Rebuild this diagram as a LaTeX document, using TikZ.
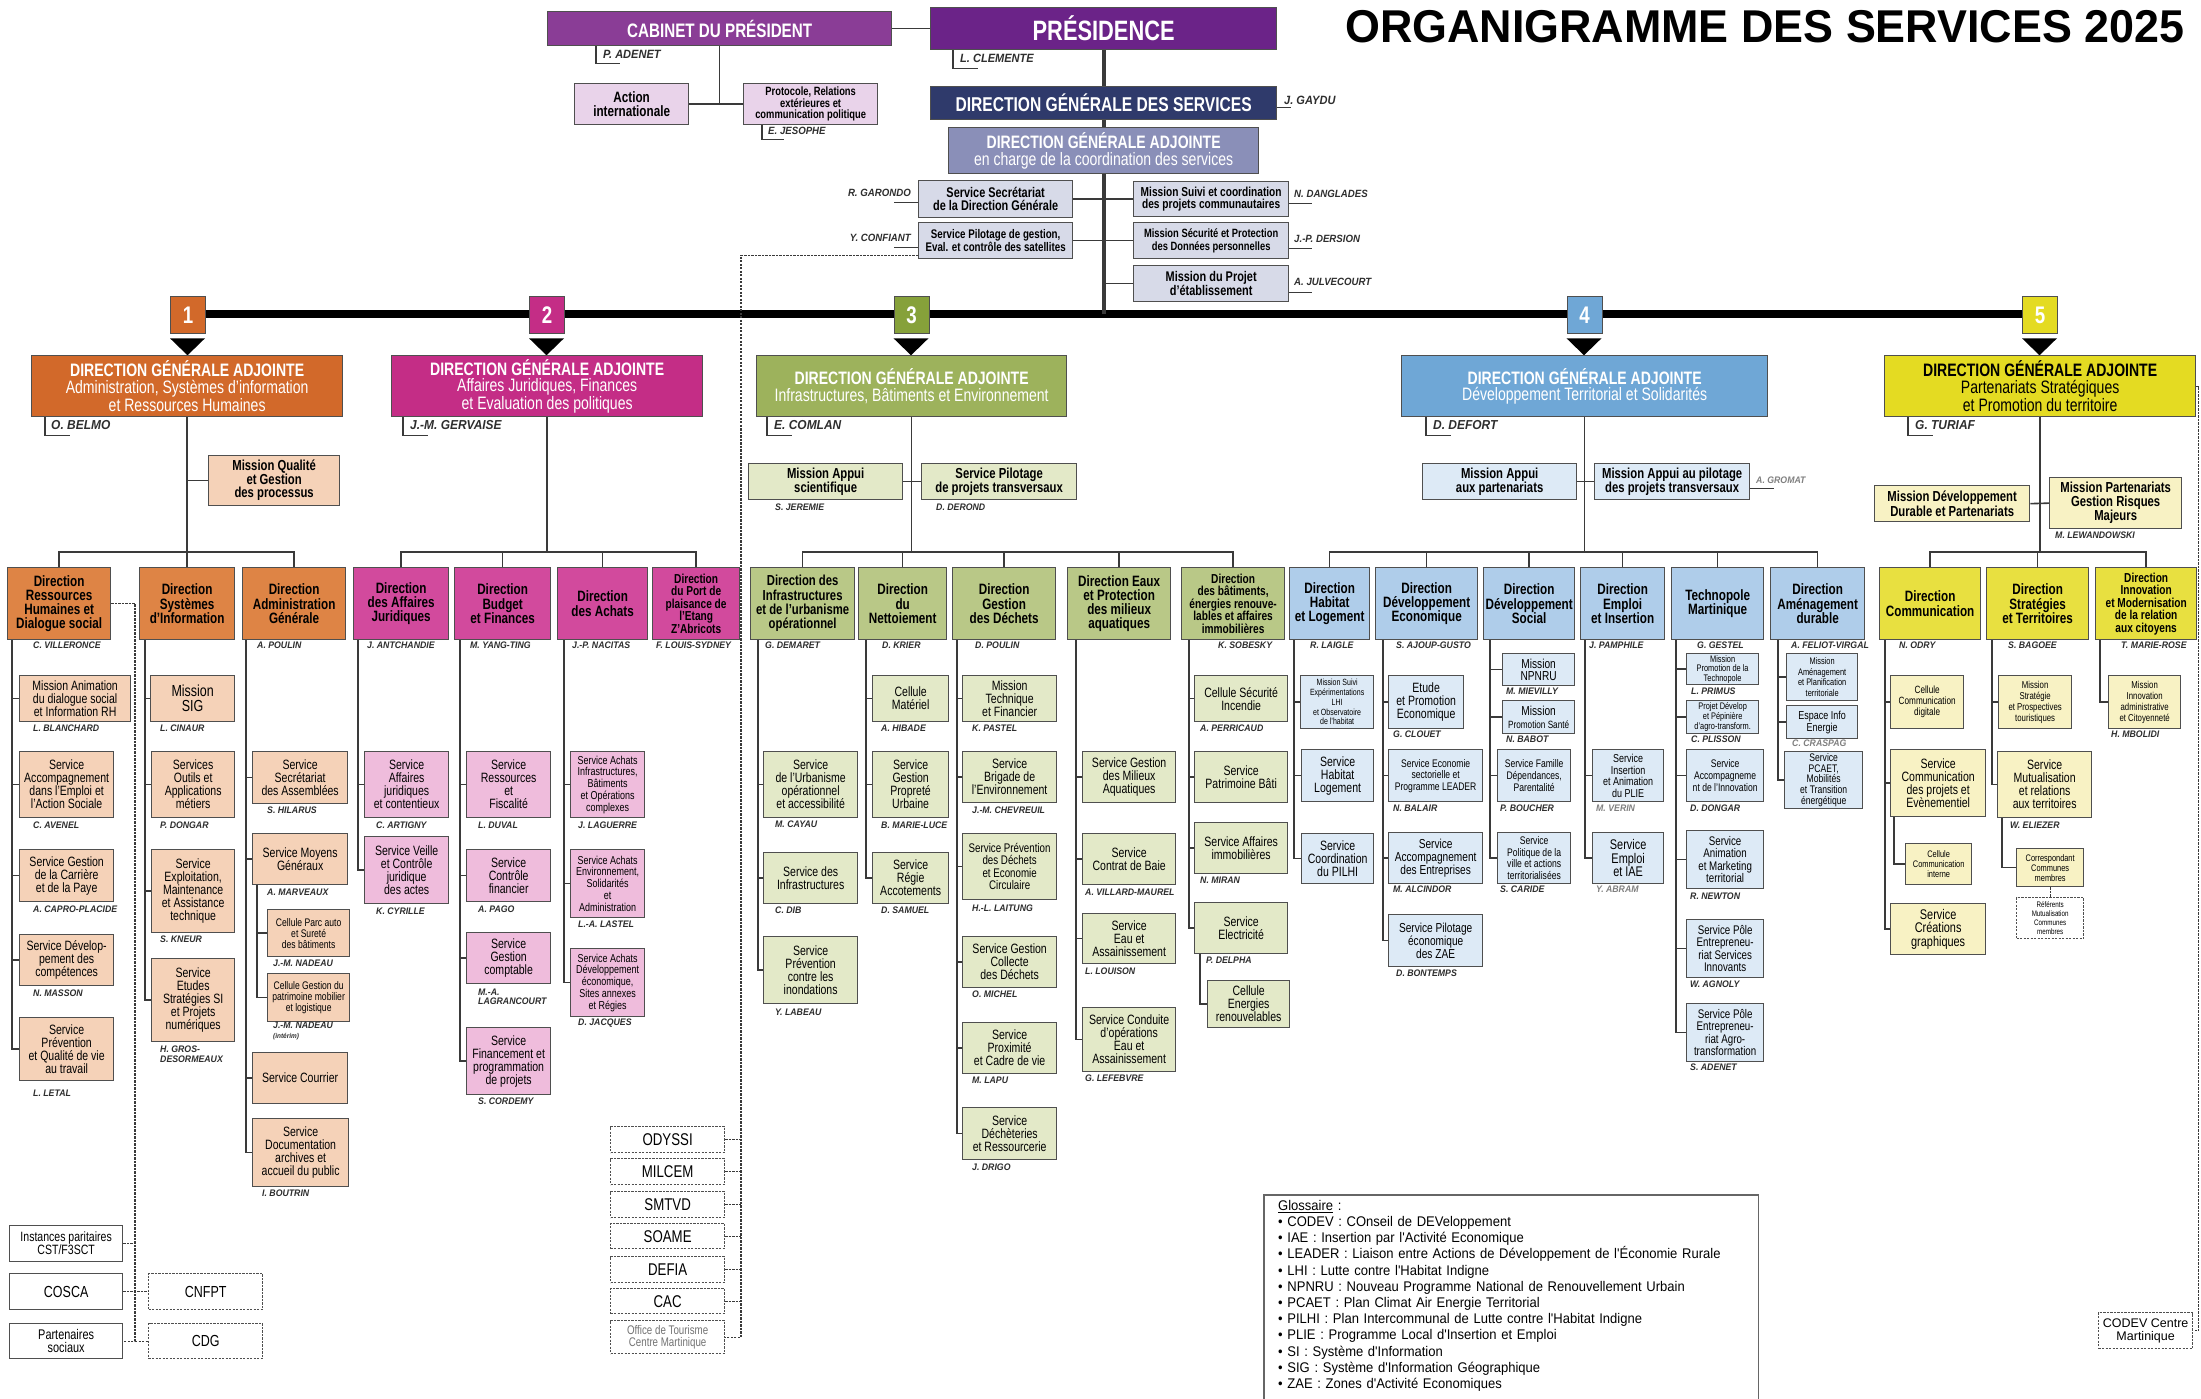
\documentclass[tikz,border=0pt]{standalone}
\usepackage{fontspec}
\setmainfont{Liberation Sans}[FakeStretch=0.78]
\newfontfamily\namefont{Liberation Sans}[FakeStretch=0.92]
\newfontfamily\plainfont{Liberation Sans}
\newfontfamily\glofont{Liberation Sans}[FakeStretch=0.93]
\newfontfamily\titlefont{Liberation Sans}[FakeStretch=0.975]
\definecolor{cabC}{HTML}{8A3D96}
\definecolor{presC}{HTML}{6B2388}
\definecolor{lilac}{HTML}{E9D3EA}
\definecolor{dgsC}{HTML}{2F3A6B}
\definecolor{dgacC}{HTML}{8A8FB8}
\definecolor{greyL}{HTML}{D7DAE8}
\definecolor{oA}{HTML}{D2692A}\definecolor{oB}{HTML}{DE8445}\definecolor{oC}{HTML}{F5D2B8}
\definecolor{mA}{HTML}{C42D86}\definecolor{mB}{HTML}{D24A9D}\definecolor{mC}{HTML}{EFBCDC}
\definecolor{gA}{HTML}{9DB25C}\definecolor{gN}{HTML}{86A13A}\definecolor{gB}{HTML}{B9C887}\definecolor{gC}{HTML}{E3E9C8}
\definecolor{bA}{HTML}{6FA7D6}\definecolor{bB}{HTML}{AFCDEA}\definecolor{bC}{HTML}{DDEAF6}
\definecolor{yA}{HTML}{E4DB22}\definecolor{yB}{HTML}{E8E040}\definecolor{yC}{HTML}{F8F2C4}
\definecolor{lnC}{HTML}{3A3A3A}
\definecolor{bdC}{HTML}{4F4F4F}
\definecolor{nmC}{HTML}{2E2E2E}
\tikzset{
 bxb/.style={draw=bdC, line width=1.3pt, inner sep=1pt, align=center, text=black},
 fs/.style 2 args={font=\fontsize{#1}{#2}\selectfont},
 fsb/.style 2 args={font=\bfseries\fontsize{#1}{#2}\selectfont},
 topb/.style={bxb, text=white},
 dgaS/.style={bxb, text=white, font=\fontsize{18}{16.5}\selectfont},
 dirS/.style={bxb, font=\bfseries\fontsize{15}{14.3}\selectfont},
 svcS/.style={bxb, font=\fontsize{13.5}{13}\selectfont},
 misS/.style={bxb, font=\bfseries\fontsize{14.5}{13.5}\selectfont},
 numb/.style={bxb, text=white, font=\bfseries\fontsize{24}{24}\selectfont},
 extS/.style={bxb, fill=white, font=\fontsize{16}{16}\selectfont},
 satS/.style={bxb, fill=white, dash pattern=on 2.2pt off 1.3pt, font=\fontsize{17}{17}\selectfont},
 s1/.style={svcS, fill=oC}, s2/.style={svcS, fill=mC}, s3/.style={svcS, fill=gC},
 s4/.style={svcS, fill=bC}, s5/.style={svcS, fill=yC},
 conn/.style={draw=lnC, line width=1.6pt},
 spn/.style={draw=lnC, line width=4pt},
 dsh/.style={draw=lnC, line width=1.3pt, dash pattern=on 2.2pt off 1.3pt},
 brk/.style={draw=lnC, line width=1.1pt},
 nmS/.style={inner sep=0pt, anchor=west, align=left, text=nmC, font=\namefont\bfseries\itshape\fontsize{9.5}{9.5}\selectfont},
 nmG/.style={nmS, text=gray},
 nmL/.style={nmS, font=\namefont\bfseries\itshape\fontsize{13}{13}\selectfont},
 nmM/.style={nmS, font=\namefont\bfseries\itshape\fontsize{12}{12}\selectfont},
 nmT/.style={nmS, font=\namefont\bfseries\itshape\fontsize{10.5}{10.5}\selectfont},
}
\newcommand{\bx}[7]{\node[#2,anchor=north west,minimum width={#5-#3},minimum height={#6-#4}] (#1) at (#3,#4) {#7};}
\newcommand{\nm}[5][nmS]{\node[#1] (#2) at (#3,#4) {#5};}
\newcommand{\ch}[3]{\draw[conn] ([xshift=#3pt]#1.south west) |- (#2.west);}
\newcommand{\brn}[2]{\draw[conn] (#1.south |- br) -| (#2.north);}
\begin{document}
\begin{tikzpicture}[x=1pt,y=-1pt]
\useasboundingbox (0,0) rectangle (2201,1399);
\clip (0,0) rectangle (2201,1399);
\fill[white] (0,0) rectangle (2201,1399);
\coordinate (br) at (0,552);
% ---------- title
\node[anchor=north west, inner sep=0pt, font=\titlefont\bfseries\fontsize{46}{46}\selectfont] (title) at (1345,10) {ORGANIGRAMME DES SERVICES 2025};
% ---------- top
\bx{cab}{topb, fill=cabC, fsb={19.5}{20}}{547}{11}{891}{45}{CABINET DU PRÉSIDENT}
\bx{pres}{topb, fill=presC, fsb={28}{28}}{930}{7}{1276}{49}{PRÉSIDENCE}
\bx{ai}{bxb, fill=lilac, fsb={15}{14}}{574}{83}{688}{124}{Action\\internationale}
\bx{prot}{bxb, fill=lilac, fsb={12}{11.5}}{743}{83}{877}{124}{Protocole, Relations\\extérieures et\\communication politique}
\bx{dgs}{topb, fill=dgsC, fsb={20}{20}}{930}{86}{1276}{119}{DIRECTION GÉNÉRALE DES SERVICES}
\bx{dgac}{topb, fill=dgacC, fs={18}{17}}{948}{127}{1258}{173}{\textbf{DIRECTION GÉNÉRALE ADJOINTE}\\en charge de la coordination des services}
\bx{ssdg}{bxb, fill=greyL, fsb={14}{13}}{918}{180}{1072}{217}{Service Secrétariat\\de la Direction Générale}
\bx{spg}{bxb, fill=greyL, fsb={12.5}{12.5}}{918}{222}{1072}{258}{Service Pilotage de gestion,\\Eval. et contrôle des satellites}
\bx{msc}{bxb, fill=greyL, fsb={13}{12.5}}{1133}{181}{1288}{216}{Mission Suivi et coordination\\des projets communautaires}
\bx{msp}{bxb, fill=greyL, fsb={12}{12.5}}{1133}{222}{1288}{258}{Mission Sécurité et  Protection\\des Données personnelles}
\bx{mpe}{bxb, fill=greyL, fsb={14}{13}}{1133}{265}{1288}{301}{Mission du Projet\\d'établissement}
\draw[conn] (cab.east) -- (pres.west);
\draw[conn] (cab.south) -- (cab.south |- ai.east);
\draw[conn] (ai.east) -- (prot.west);
\draw[spn] (pres.south) -- (dgs.north);
\draw[spn] (dgs.south) -- (dgac.north);
\draw[conn] (ssdg.east) -- (ssdg.east -| dgac.south);
\draw[conn] (spg.east) -- (spg.east -| dgac.south);
\draw[conn] (msc.west) -- (msc.west -| dgac.south);
\draw[conn] (msp.west) -- (msp.west -| dgac.south);
\draw[conn] (mpe.west) -- (mpe.west -| dgac.south);
% top names
\draw[brk] ([xshift=49pt]cab.south west) |- ++(24,17);
\nm[nmM]{t1}{603}{54}{P. ADENET}
\draw[brk] ([xshift=23pt]pres.south west) |- ++(25,18);
\nm[nmM]{t2}{960}{58}{L. CLEMENTE}
\draw[brk] ([xshift=19pt]prot.south west) |- ++(22,14);
\nm[nmT]{t3}{768}{131}{E. JESOPHE}
\draw[brk] (dgs.south east) ++(0,-13) -- ++(14,0);
\nm[nmM]{t4}{1284}{100}{J. GAYDU}
\draw[brk] (ssdg.west) ++(0,3.5) -- ++(-24,0);
\node[nmT, anchor=east] (t5) at (911,193) {R. GARONDO};
\draw[brk] (spg.west) ++(0,7) -- ++(-24,0);
\node[nmT, anchor=east] (t6) at (911,238) {Y. CONFIANT};
\draw[brk] (msc.east) ++(0,4.5) -- ++(23,0);
\nm[nmT]{t7}{1294}{194}{N. DANGLADES}
\draw[brk] (msp.east) ++(0,8) -- ++(23,0);
\nm[nmT]{t8}{1294}{239}{J.-P. DERSION}
\draw[brk] (mpe.east) ++(0,9) -- ++(23,0);
\nm[nmT]{t9}{1294}{282}{A. JULVECOURT}
% ---------- bar and numbers
\coordinate (barL) at (205,314);
\coordinate (barR) at (2022,314);
\draw[line width=8pt, black] (barL) -- (barR);
\draw[spn] (dgac.south) -- (dgac.south |- barL);
\bx{k1}{numb, fill=oA}{170}{296}{205}{333}{1}
\bx{k2}{numb, fill=mA}{529}{296}{564}{333}{2}
\bx{k3}{numb, fill=gN}{893.5}{296}{928.5}{333}{3}
\bx{k4}{numb, fill=bA}{1566.5}{296}{1601.5}{333}{4}
\bx{k5}{numb, fill=yA}{2022}{296}{2057}{333}{5}
\foreach \k in {k1,k2,k3,k4,k5}{\fill[black] (\k.south west) ++(0,4) -- ++(35,0) -- ++(-17.5,17) -- cycle;}
% ---------- DGA boxes
\bx{dga1}{dgaS, fill=oA}{31}{355}{342}{416}{\textbf{DIRECTION GÉNÉRALE ADJOINTE}\\Administration, Systèmes d'information\\et Ressources Humaines}
\bx{dga2}{dgaS, fill=mA}{391}{355}{702}{416}{\textbf{DIRECTION GÉNÉRALE ADJOINTE}\\Affaires Juridiques, Finances\\et Evaluation des politiques}
\bx{dga3}{dgaS, fill=gA}{756}{355}{1066}{416}{\textbf{DIRECTION GÉNÉRALE ADJOINTE}\\Infrastructures, Bâtiments et Environnement}
\bx{dga4}{dgaS, fill=bA}{1401}{355}{1767}{416}{\textbf{DIRECTION GÉNÉRALE ADJOINTE}\\Développement Territorial et Solidarités}
\bx{dga5}{dgaS, fill=yA, text=black}{1884}{355}{2195}{416}{\textbf{DIRECTION GÉNÉRALE ADJOINTE}\\Partenariats Stratégiques\\et Promotion du territoire}
\draw[brk] ([xshift=14pt]dga1.south west) |- ++(25,18);
\nm[nmL]{g1}{51}{425}{O. BELMO}
\draw[brk] ([xshift=12pt]dga2.south west) |- ++(25,18);
\nm[nmL]{g2}{410}{425}{J.-M. GERVAISE}
\draw[brk] ([xshift=11pt]dga3.south west) |- ++(25,18);
\nm[nmL]{g3}{774}{425}{E. COMLAN}
\draw[brk] ([xshift=25pt]dga4.south west) |- ++(25,18);
\nm[nmL]{g4}{1433}{425}{D. DEFORT}
\draw[brk] ([xshift=24pt]dga5.south west) |- ++(25,18);
\nm[nmL]{g5}{1915}{425}{G. TURIAF}
% ========== DGA 1
\bx{mq}{misS, fill=oC}{208}{455}{339}{505}{Mission Qualité\\et Gestion\\des processus}
\draw[conn] (dga1.south) -- (dga1.south |- br);
\draw[conn] (dga1.south |- mq.west) -- (mq.west);
\bx{drh}{dirS, fill=oB}{7}{567}{110}{639}{Direction\\Ressources\\Humaines et\\Dialogue social}
\bx{dsi}{dirS, fill=oB}{139}{567}{234}{639}{Direction\\Systèmes\\d'Information}
\bx{dag}{dirS, fill=oB}{242}{567}{345}{639}{Direction\\Administration\\Générale}
\brn{dga1}{drh}\brn{dga1}{dsi}\brn{dga1}{dag}
\bx{c11}{s1}{19}{675}{130}{721}{Mission Animation\\du dialogue social\\et Information RH}
\bx{c12}{s1}{19}{751}{113}{817}{Service\\Accompagnement\\dans l'Emploi et\\l'Action Sociale}
\bx{c13}{s1}{19}{849}{113}{901}{Service Gestion\\de la Carrière\\et de la Paye}
\bx{c14}{s1}{19}{934}{113}{985}{Service Dévelop-\\pement des\\compétences}
\bx{c15}{s1}{19}{1017}{113}{1080}{Service\\Prévention\\et Qualité de vie\\au travail}
\foreach \c in {c11,c12,c13,c14,c15}{\ch{drh}{\c}{5}}
\bx{c21}{s1, fs={16}{15}}{150}{675}{234}{721}{Mission\\SIG}
\bx{c22}{s1}{151}{751}{234}{817}{Services\\Outils et\\Applications\\métiers}
\bx{c23}{s1}{151}{849}{234}{932}{Service\\Exploitation,\\Maintenance\\et Assistance\\technique}
\bx{c24}{s1}{151}{958}{234}{1041}{Service\\Etudes\\Stratégies SI\\et Projets\\numériques}
\foreach \c in {c21,c22,c23,c24}{\ch{dsi}{\c}{6}}
\bx{c31}{s1}{252}{751}{347}{803}{Service\\Secrétariat\\des Assemblées}
\bx{c32}{s1}{252}{833}{347}{884}{Service Moyens\\Généraux}
\bx{c33}{s1, fs={11}{11}}{267}{909}{349}{956}{Cellule Parc auto\\et Sureté\\des bâtiments}
\bx{c34}{s1, fs={11}{11}}{267}{973}{349}{1021}{Cellule Gestion du\\patrimoine mobilier\\et logistique}
\bx{c35}{s1}{252}{1052}{347}{1103}{Service Courrier}
\bx{c36}{s1}{252}{1118}{348}{1186}{Service\\Documentation\\archives et\\accueil du public}
\foreach \c in {c31,c32,c35,c36}{\ch{dag}{\c}{4}}
\ch{c32}{c33}{5}\ch{c32}{c34}{5}
\nm{a1}{33}{645}{C. VILLERONCE}
\nm{a2}{257}{645}{A. POULIN}
\nm{a3}{33}{728}{L. BLANCHARD}
\nm{a4}{33}{825}{C. AVENEL}
\nm{a5}{33}{909}{A. CAPRO-PLACIDE}
\nm{a6}{33}{993}{N. MASSON}
\nm{a7}{33}{1093}{L. LETAL}
\nm{a8}{160}{728}{L. CINAUR}
\nm{a9}{160}{825}{P. DONGAR}
\nm{a10}{160}{939}{S. KNEUR}
\nm{a11}{160}{1054}{H. GROS-\\DESORMEAUX}
\nm{a12}{267}{810}{S. HILARUS}
\nm{a13}{267}{892}{A. MARVEAUX}
\nm{a14}{273}{963}{J.-M. NADEAU}
\nm{a15}{273}{1031}{J.-M. NADEAU\\{\fontsize{7}{7}\selectfont (intérim)}}
\nm{a16}{262}{1193}{I. BOUTRIN}
% external bodies DGA1
\coordinate (dd1) at (135,0);
\bx{ip}{extS, fs={13.5}{13}}{9}{1225}{122}{1261}{Instances paritaires\\CST/F3SCT}
\bx{cosca}{extS}{9}{1273}{122}{1309}{COSCA}
\bx{ps}{extS, fs={14}{13.5}}{9}{1323}{122}{1358}{Partenaires\\sociaux}
\bx{cnfpt}{satS, fs={16}{16}}{148}{1273}{262}{1309}{CNFPT}
\bx{cdg}{satS, fs={16}{16}}{148}{1323}{262}{1358}{CDG}
\draw[dsh] (drh.east) -| (ps.east -| dd1) -- (ps.east);
\draw[dsh] (ip.east) -- (ip.east -| dd1);
\draw[dsh] (cosca.east) -- (cnfpt.west);
\draw[dsh] (ps.east -| dd1) -- (cdg.west);
% ========== DGA 2
\draw[conn] (dga2.south) -- (dga2.south |- br);
\bx{d21}{dirS, fill=mB}{353}{567}{448}{639}{Direction\\des Affaires\\Juridiques}
\bx{d22}{dirS, fill=mB}{454}{567}{550}{639}{Direction\\Budget\\et Finances}
\bx{d23}{dirS, fill=mB}{557}{567}{647}{639}{Direction\\des Achats}
\bx{d24}{dirS, fill=mB, fsb={13}{12.5}}{652}{567}{739}{639}{Direction\\du Port de\\plaisance de\\l'Etang\\Z'Abricots}
\brn{dga2}{d21}\brn{dga2}{d22}\brn{dga2}{d23}\brn{dga2}{d24}
\bx{e11}{s2}{364}{751}{448}{817}{Service\\Affaires\\juridiques\\et contentieux}
\bx{e12}{s2}{364}{836}{448}{903}{Service Veille\\et Contrôle\\juridique\\des actes}
\foreach \c in {e11,e12}{\ch{d21}{\c}{5}}
\bx{e21}{s2}{466}{751}{550}{817}{Service\\Ressources\\et\\Fiscalité}
\bx{e22}{s2}{466}{849}{550}{901}{Service\\Contrôle\\financier}
\bx{e23}{s2}{466}{932}{550}{983}{Service\\Gestion\\comptable}
\bx{e24}{s2}{466}{1027}{550}{1094}{Service\\Financement et\\programmation\\de projets}
\foreach \c in {e21,e22,e23,e24}{\ch{d22}{\c}{6}}
\bx{e31}{s2, fs={11.5}{11.8}}{570}{751}{644}{817}{Service Achats\\Infrastructures,\\Bâtiments\\et Opérations\\complexes}
\bx{e32}{s2, fs={11.5}{11.8}}{570}{849}{644}{917}{Service Achats\\Environnement,\\Solidarités\\et\\Administration}
\bx{e33}{s2, fs={11.5}{11.8}}{570}{948}{644}{1016}{Service Achats\\Développement\\économique,\\Sites annexes\\et Régies}
\foreach \c in {e31,e32,e33}{\ch{d23}{\c}{7}}
\nm{b1}{367}{645}{J. ANTCHANDIE}
\nm{b2}{470}{645}{M. YANG-TING}
\nm{b3}{572}{645}{J.-P. NACITAS}
\nm{b4}{656}{645}{F. LOUIS-SYDNEY}
\nm{b5}{376}{825}{C. ARTIGNY}
\nm{b6}{376}{911}{K. CYRILLE}
\nm{b7}{478}{825}{L. DUVAL}
\nm{b8}{478}{909}{A. PAGO}
\nm{b9}{478}{997}{M.-A.\\LAGRANCOURT}
\nm{b10}{478}{1101}{S. CORDEMY}
\nm{b11}{578}{825}{J. LAGUERRE}
\nm{b12}{578}{924}{L.-A. LASTEL}
\nm{b13}{578}{1023}{D. JACQUES}
% satellites
\coordinate (dd2) at (741,0);
\bx{o1}{satS}{610}{1126}{724}{1152}{ODYSSI}
\bx{o2}{satS}{610}{1158}{724}{1184}{MILCEM}
\bx{o3}{satS}{610}{1191}{724}{1217}{SMTVD}
\bx{o4}{satS}{610}{1223}{724}{1248}{SOAME}
\bx{o5}{satS}{610}{1256}{724}{1282}{DEFIA}
\bx{o6}{satS}{610}{1288}{724}{1313}{CAC}
\bx{o7}{satS, text=black!55, fs={12.5}{12.5}}{610}{1320}{724}{1353}{Office de Tourisme\\Centre Martinique}
\draw[dsh] (spg.south west) ++(0,-4) -| (o7.east -| dd2) -- (o7.east);
\foreach \o in {o1,o2,o3,o4,o5,o6}{\draw[dsh] (\o.east) -- (\o.east -| dd2);}
% ========== DGA 3
\bx{map}{misS, fill=gC}{748}{463}{902}{499}{Mission Appui\\scientifique}
\bx{spl}{misS, fill=gC}{921}{463}{1076}{499}{Service Pilotage\\de projets transversaux}
\draw[conn] (dga3.south) -- (dga3.south |- br);
\draw[conn] (map.east) -- (spl.west);
\nm{h1}{775}{507}{S. JEREMIE}
\nm{h2}{936}{507}{D. DEROND}
\bx{d31}{dirS, fill=gB, fsb={14.5}{14.3}}{750}{567}{854}{639}{Direction des\\Infrastructures\\et de l'urbanisme\\opérationnel}
\bx{d32}{dirS, fill=gB}{858}{567}{946}{639}{Direction\\du\\Nettoiement}
\bx{d33}{dirS, fill=gB}{952}{567}{1055}{639}{Direction\\Gestion\\des Déchets}
\bx{d34}{dirS, fill=gB}{1067}{567}{1170}{639}{Direction Eaux\\et Protection\\des milieux\\aquatiques}
\bx{d35}{dirS, fill=gB, fsb={13}{12.5}}{1181}{567}{1284}{639}{Direction\\des bâtiments,\\énergies renouve-\\lables et affaires\\immobilières}
\brn{dga3}{d31}\brn{dga3}{d32}\brn{dga3}{d33}\brn{dga3}{d34}\brn{dga3}{d35}
\bx{f11}{s3}{763}{751}{857}{817}{Service\\de l'Urbanisme\\opérationnel\\et accessibilité}
\bx{f12}{s3}{763}{852}{857}{903}{Service des\\Infrastructures}
\bx{f13}{s3}{763}{936}{857}{1003}{Service\\Prévention\\contre les\\inondations}
\foreach \c in {f11,f12,f13}{\ch{d31}{\c}{8}}
\bx{f21}{s3}{872}{675}{948}{721}{Cellule\\Matériel}
\bx{f22}{s3}{872}{751}{948}{817}{Service\\Gestion\\Propreté\\Urbaine}
\bx{f23}{s3}{872}{852}{948}{903}{Service\\Régie\\Accotements}
\foreach \c in {f21,f22,f23}{\ch{d32}{\c}{8}}
\bx{f31}{s3}{962}{675}{1056}{721}{Mission\\Technique\\et Financier}
\bx{f32}{s3}{962}{751}{1056}{802}{Service\\Brigade de\\l'Environnement}
\bx{f33}{s3, fs={12.5}{12.5}}{962}{833}{1056}{899}{Service Prévention\\des Déchets\\et Economie\\Circulaire}
\bx{f34}{s3}{962}{936}{1056}{987}{Service Gestion\\Collecte\\des Déchets}
\bx{f35}{s3}{962}{1022}{1056}{1073}{Service\\Proximité\\et Cadre de vie}
\bx{f36}{s3}{962}{1107}{1056}{1159}{Service\\Déchèteries\\et Ressourcerie}
\foreach \c in {f31,f32,f33,f34,f35,f36}{\ch{d33}{\c}{5}}
\bx{f41}{s3}{1082}{751}{1175}{802}{Service Gestion\\des Milieux\\Aquatiques}
\bx{f42}{s3}{1082}{833}{1175}{884}{Service\\Contrat de Baie}
\bx{f43}{s3}{1082}{913}{1175}{963}{Service\\Eau et\\Assainissement}
\bx{f44}{s3}{1082}{1007}{1175}{1071}{Service Conduite\\d'opérations\\Eau et\\Assainissement}
\foreach \c in {f41,f42,f43,f44}{\ch{d34}{\c}{9}}
\bx{f51}{s3}{1194}{675}{1287}{721}{Cellule Sécurité\\Incendie}
\bx{f52}{s3}{1194}{751}{1287}{802}{Service\\Patrimoine Bâti}
\bx{f53}{s3}{1194}{822}{1287}{873}{Service Affaires\\immobilières}
\bx{f54}{s3}{1194}{902}{1287}{953}{Service\\Electricité}
\bx{f55}{s3}{1207}{980}{1289}{1027}{Cellule\\Energies\\renouvelables}
\foreach \c in {f51,f52,f53,f54}{\ch{d35}{\c}{8}}
\ch{f54}{f55}{6}
\nm{i1}{765}{645}{G. DEMARET}
\nm{i2}{882}{645}{D. KRIER}
\nm{i3}{975}{645}{D. POULIN}
\nm{i4}{1218}{645}{K. SOBESKY}
\nm{i5}{775}{824}{M. CAYAU}
\nm{i6}{775}{910}{C. DIB}
\nm{i7}{775}{1012}{Y. LABEAU}
\nm{i8}{881}{728}{A. HIBADE}
\nm{i9}{881}{825}{B. MARIE-LUCE}
\nm{i10}{881}{910}{D. SAMUEL}
\nm{i11}{972}{728}{K. PASTEL}
\nm{i12}{972}{810}{J.-M. CHEVREUIL}
\nm{i13}{972}{908}{H.-L. LAITUNG}
\nm{i14}{972}{994}{O. MICHEL}
\nm{i15}{972}{1080}{M. LAPU}
\nm{i16}{972}{1167}{J. DRIGO}
\nm{i17}{1085}{892}{A. VILLARD-MAUREL}
\nm{i18}{1085}{971}{L. LOUISON}
\nm{i19}{1085}{1078}{G. LEFEBVRE}
\nm{i20}{1200}{728}{A. PERRICAUD}
\nm{i21}{1200}{880}{N. MIRAN}
\nm{i22}{1206}{960}{P. DELPHA}
% ========== DGA 4
\bx{mapa}{misS, fill=bC}{1422}{463}{1576}{499}{Mission Appui\\aux partenariats}
\bx{mapp}{misS, fill=bC}{1594}{463}{1749}{499}{Mission Appui au pilotage\\des projets transversaux}
\draw[conn] (dga4.south) -- (dga4.south |- br);
\draw[conn] (mapa.east) -- (mapp.west);
\draw[brk] (mapp.east) ++(0,7) -- ++(24,0);
\nm[nmG]{j0}{1756}{480}{A. GROMAT}
\bx{d41}{dirS, fill=bB}{1289}{567}{1369}{639}{Direction\\Habitat\\et Logement}
\bx{d42}{dirS, fill=bB}{1375}{567}{1477}{639}{Direction\\Développement\\Economique}
\bx{d43}{dirS, fill=bB}{1483}{567}{1574}{639}{Direction\\Développement\\Social}
\bx{d44}{dirS, fill=bB}{1580}{567}{1664}{639}{Direction\\Emploi\\et Insertion}
\bx{d45}{dirS, fill=bB}{1671}{567}{1763}{639}{Technopole\\Martinique}
\bx{d46}{dirS, fill=bB}{1770}{567}{1864}{639}{Direction\\Aménagement\\durable}
\brn{dga4}{d41}\brn{dga4}{d42}\brn{dga4}{d43}\brn{dga4}{d44}\brn{dga4}{d45}\brn{dga4}{d46}
\bx{g11}{s4, fs={9}{9.8}}{1300}{675}{1373}{728}{Mission Suivi\\Expérimentations\\LHI\\et Observatoire\\de l'habitat}
\bx{g12}{s4}{1301}{749}{1373}{801}{Service\\Habitat\\Logement}
\bx{g13}{s4}{1301}{833}{1373}{883}{Service\\Coordination\\du PILHI}
\foreach \c in {g11,g12,g13}{\ch{d41}{\c}{5}}
\bx{g21}{s4}{1388}{675}{1463}{728}{Etude\\et Promotion\\Economique}
\bx{g22}{s4, fs={11}{11.5}}{1388}{749}{1482}{801}{Service Economie\\sectorielle et\\Programme LEADER}
\bx{g23}{s4, fs={13}{13}}{1388}{832}{1482}{883}{Service\\Accompagnement\\des Entreprises}
\bx{g24}{s4, fs={13}{13}}{1388}{914}{1482}{966}{Service  Pilotage\\économique\\des ZAE}
\foreach \c in {g21,g22,g23,g24}{\ch{d42}{\c}{8}}
\bx{g31}{s4, fs={13}{12.5}}{1502}{653}{1574}{685}{Mission\\NPNRU}
\bx{g32}{s4, fs={13}{12.5}}{1502}{700}{1574}{733}{Mission\\{\fontsize{10.5}{11}\selectfont Promotion Santé}}
\bx{g33}{s4, fs={11}{12}}{1497}{749}{1570}{801}{Service Famille\\Dépendances,\\Parentalité}
\bx{g34}{s4, fs={11}{11.5}}{1497}{832}{1570}{883}{Service\\Politique de la\\ville et actions\\territorialisées}
\foreach \c in {g31,g32,g33,g34}{\ch{d43}{\c}{7}}
\bx{g41}{s4, fs={11.5}{11.5}}{1592}{749}{1663}{801}{Service\\Insertion\\et Animation\\du PLIE}
\bx{g42}{s4, fs={14}{13.5}}{1592}{832}{1663}{883}{Service\\Emploi\\et IAE}
\foreach \c in {g41,g42}{\ch{d44}{\c}{5}}
\bx{g51}{s4, fs={9.5}{9.5}}{1686}{653}{1758}{684}{Mission\\Promotion de la\\Technopole}
\bx{g52}{s4, fs={9.5}{9.8}}{1686}{700}{1758}{733}{Projet Dévelop\\et Pépinière\\d'agro-transform.}
\bx{g53}{s4, fs={11}{12}}{1686}{749}{1763}{801}{Service\\Accompagneme\\nt de l'Innovation}
\bx{g54}{s4, fs={12.5}{12.5}}{1686}{830}{1763}{888}{Service\\Animation\\et Marketing\\territorial}
\bx{g55}{s4, fs={12.5}{12.5}}{1686}{919}{1763}{977}{Service Pôle\\Entrepreneu-\\riat Services\\Innovants}
\bx{g56}{s4, fs={12.5}{12.5}}{1686}{1003}{1763}{1061}{Service Pôle\\Entrepreneu-\\riat Agro-\\transformation}
\foreach \c in {g51,g52,g53,g54,g55,g56}{\ch{d45}{\c}{5}}
\bx{g61}{s4, fs={9.5}{10.5}}{1786}{653}{1857}{700}{Mission\\Aménagement\\et Planification\\territoriale}
\bx{g62}{s4, fs={11.5}{12}}{1786}{705}{1857}{738}{Espace Info\\Energie}
\bx{g63}{s4, fs={11}{10.8}}{1784}{751}{1862}{808}{Service\\PCAET,\\Mobilités\\et Transition\\énergétique}
\foreach \c in {g61,g62,g63}{\ch{d46}{\c}{8}}
\nm{j1}{1310}{645}{R. LAIGLE}
\nm{j2}{1396}{645}{S. AJOUP-GUSTO}
\nm{j3}{1589}{645}{J. PAMPHILE}
\nm{j4}{1697}{645}{G. GESTEL}
\nm{j5}{1791}{645}{A. FELIOT-VIRGAL}
\nm{j6}{1393}{734}{G. CLOUET}
\nm{j7}{1393}{808}{N. BALAIR}
\nm{j8}{1393}{889}{M. ALCINDOR}
\nm{j9}{1396}{973}{D. BONTEMPS}
\nm{j10}{1506}{691}{M. MIEVILLY}
\nm{j11}{1506}{739}{N. BABOT}
\nm{j12}{1500}{808}{P. BOUCHER}
\nm{j13}{1500}{889}{S. CARIDE}
\nm[nmG]{j14}{1596}{808}{M. VERIN}
\nm[nmG]{j15}{1596}{889}{Y. ABRAM}
\nm{j16}{1691}{691}{L. PRIMUS}
\nm{j17}{1691}{739}{C. PLISSON}
\nm{j18}{1690}{808}{D. DONGAR}
\nm{j19}{1690}{896}{R. NEWTON}
\nm{j20}{1690}{984}{W. AGNOLY}
\nm{j21}{1690}{1067}{S. ADENET}
\nm[nmG]{j22}{1792}{743}{C. CRASPAG}
% ========== DGA 5
\bx{mdd}{misS, fill=yC}{1874}{485}{2029}{521}{Mission Développement\\Durable et Partenariats}
\bx{mpg}{misS, fill=yC}{2049}{477}{2181}{528}{Mission Partenariats\\Gestion Risques\\Majeurs}
\draw[conn] (dga5.south) -- (dga5.south |- br);
\draw[conn] (mdd.east) -- (mpg.west);
\nm{m0}{2055}{535}{M. LEWANDOWSKI}
\bx{d51}{dirS, fill=yB}{1879}{567}{1980}{639}{Direction\\Communication}
\bx{d52}{dirS, fill=yB}{1986}{567}{2088}{639}{Direction\\Stratégies\\et Territoires}
\bx{d53}{dirS, fill=yB, fsb={13}{12.5}}{2095}{567}{2196}{639}{Direction\\Innovation\\et Modernisation\\de la relation\\aux citoyens}
\brn{dga5}{d51}\brn{dga5}{d52}\brn{dga5}{d53}
\bx{h11}{s5, fs={10.5}{11}}{1890}{675}{1963}{728}{Cellule\\Communication\\digitale}
\bx{h12}{s5}{1890}{749}{1985}{816}{Service\\Communication\\des projets et\\Evènementiel}
\bx{h13}{s5, fs={9.5}{10}}{1905}{843}{1971}{884}{Cellule\\Communication\\interne}
\bx{h14}{s5, fs={14}{13.5}}{1890}{903}{1985}{954}{Service\\Créations\\graphiques}
\foreach \c in {h11,h12,h14}{\ch{d51}{\c}{6}}
\ch{h12}{h13}{4}
\bx{h21}{s5, fs={10}{11}}{1998}{675}{2071}{728}{Mission\\Stratégie\\et Prospectives\\touristiques}
\bx{h22}{s5}{1997}{751}{2091}{817}{Service\\Mutualisation\\et relations\\aux territoires}
\bx{h23}{s5, fs={9.5}{10}}{2016}{848}{2083}{886}{Correspondant\\Communes\\membres}
\bx{h24}{satS, fs={8}{8.8}}{2016}{897}{2083}{938}{Référents\\Mutualisation\\Communes\\membres}
\foreach \c in {h21,h22}{\ch{d52}{\c}{6}}
\ch{h22}{h23}{5}
\draw[dsh] (h23.south) -- (h24.north);
\bx{h31}{s5, fs={10}{11}}{2108}{675}{2180}{728}{Mission\\Innovation\\administrative\\et Citoyenneté}
\ch{d53}{h31}{5}
\nm{m1}{1899}{645}{N. ODRY}
\nm{m2}{2008}{645}{S. BAGOEE}
\nm{m3}{2121}{645}{T. MARIE-ROSE}
\nm{m4}{2010}{825}{W. ELIEZER}
\nm{m5}{2111}{734}{H. MBOLIDI}
% CODEV
\coordinate (dd5) at (2198.5,0);
\bx{codev}{satS, font=\plainfont\fontsize{12.5}{13}\selectfont}{2098}{1312}{2192}{1348}{CODEV Centre\\Martinique}
\draw[dsh] (dga5.east) -| (codev.east -| dd5) -- (codev.east);
% ========== Glossary (box runs past the lower edge)
\node[anchor=north west, inner xsep=14pt, inner ysep=5pt, align=left, text width=466pt, font=\glofont\fontsize{14}{16.2}\selectfont] (glos) at (1264,1195) {\underline{Glossaire} :\\
• CODEV : COnseil de DEVeloppement\\
• IAE : Insertion par l'Activité Economique\\
• LEADER : Liaison entre Actions de Développement de l'Économie Rurale\\
• LHI : Lutte contre l'Habitat Indigne\\
• NPNRU : Nouveau Programme National de Renouvellement Urbain\\
• PCAET : Plan Climat Air Energie Territorial\\
• PILHI : Plan Intercommunal de Lutte contre l'Habitat Indigne\\
• PLIE : Programme Local d'Insertion et Emploi\\
• SI : Système d'Information\\
• SIG : Système d'Information Géographique\\
• ZAE : Zones d'Activité Economiques};
\draw[draw=black!60, line width=1.4pt] (glos.north west) rectangle ([yshift=-30pt]glos.south east);
\end{tikzpicture}
\end{document}
